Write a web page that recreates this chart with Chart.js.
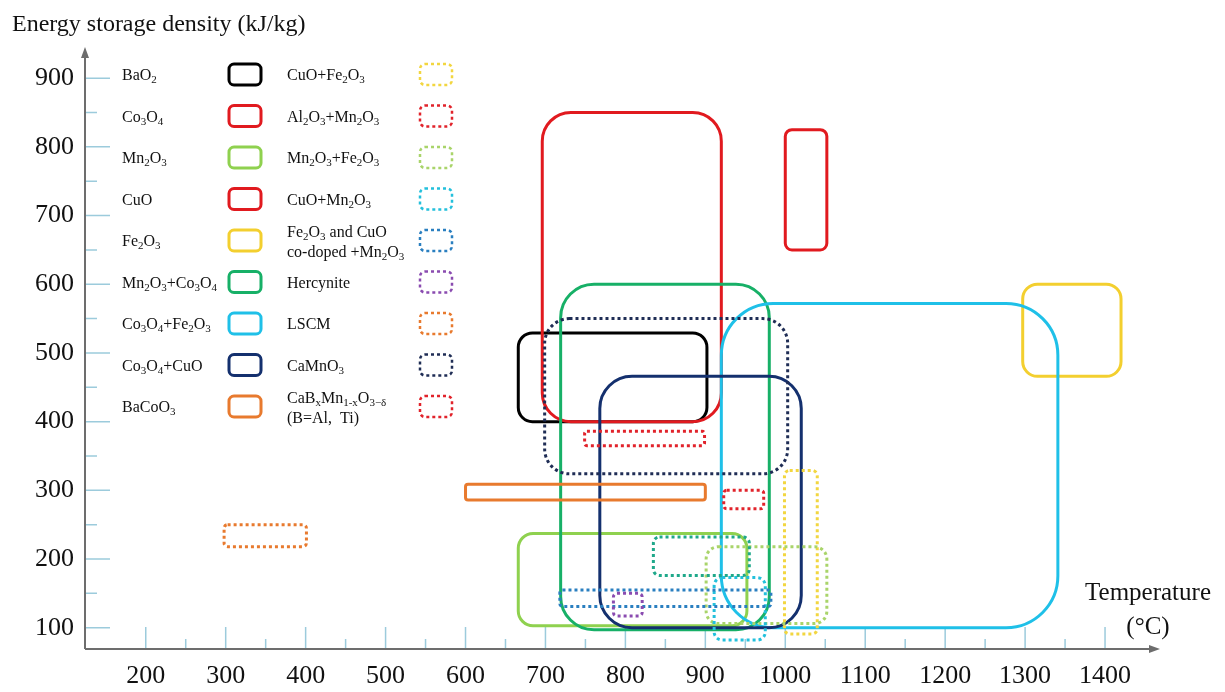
<!DOCTYPE html>
<html>
<head>
<meta charset="utf-8">
<script src="https://cdn.jsdelivr.net/npm/chart.js@4.4.1/dist/chart.umd.min.js"></script>
<style>
  html, body { margin: 0; padding: 0; background: #fff; }
  #wrap { width: 1225px; height: 692px; }
</style>
</head>
<body>
<div id="wrap"><canvas id="chart" width="1225" height="692"></canvas></div>
<script>
// {..} marks a subscript, | a line break
const solidNames = ["BaO{2}", "Co{3}O{4}", "Mn{2}O{3}", "CuO", "Fe{2}O{3}",
  "Mn{2}O{3}+Co{3}O{4}", "Co{3}O{4}+Fe{2}O{3}", "Co{3}O{4}+CuO", "BaCoO{3}"];
const solidColors = ["#000000", "#e11a1f", "#8fd14f", "#e11a1f", "#f3cf2f",
  "#17b067", "#1fc0e8", "#14306e", "#e87a2e"];
// temperature range (°C) and energy density range (kJ/kg)
const solidTemp = [[666, 902], [696, 920], [666, 952], [1000, 1052], [1297, 1420],
  [719, 980], [920, 1341], [768, 1020], [600, 900]];
const solidDensity = [[400, 529], [400, 850], [103, 237], [650, 825], [466, 600],
  [97, 600], [100, 572], [100, 466], [286, 309]];

const dottedNames = ["CuO+Fe{2}O{3}", "Al{2}O{3}+Mn{2}O{3}", "Mn{2}O{3}+Fe{2}O{3}", "CuO+Mn{2}O{3}",
  "Fe{2}O{3} and CuO|co-doped +Mn{2}O{3}", "Hercynite", "LSCM", "CaMnO{3}",
  "CaB{x}Mn{1-x}O{3\u2212\u03b4}|(B=Al,  Ti)"];
const dottedColors = ["#f2d640", "#e1232b", "#a9d46a", "#23c0dc", "#2a7fc0",
  "#8a4bb0", "#e87a2e", "#1f2d55", "#e1232b"];
const dottedTemp = [[999, 1040], [923, 973], [901, 1052], [911, 975], [718, 982],
  [785, 821], [298, 401], [699, 1003], [749, 899]];
const dottedDensity = [[91, 329], [273, 300], [106, 218], [82, 173], [131, 155],
  [117, 150], [218, 250], [324, 550], [365, 386]];

// one dotted range in the figure has no legend entry
const extraTemp = [835, 955];
const extraDensity = [176, 232];
const extraColor = "#1fa88a";

const xTickLabels = [200, 300, 400, 500, 600, 700, 800, 900, 1000, 1100, 1200, 1300, 1400];
const yTickLabels = [100, 200, 300, 400, 500, 600, 700, 800, 900];

const FONT = '"Liberation Serif", "Times New Roman", serif';

function drawRich(ctx, text, x, y, size) {
  const parts = text.split(/(\{[^}]*\})/).filter(Boolean);
  let cx = x;
  parts.forEach((p) => {
    const sub = p.startsWith("{");
    const s = sub ? p.slice(1, -1) : p;
    ctx.font = `${sub ? Math.round(size * 0.68) : size}px ${FONT}`;
    ctx.fillText(s, cx, sub ? y + size * 0.28 : y);
    cx += ctx.measureText(s).width;
  });
}

function roundBox(ctx, x1, y1, x2, y2, r, color, dotted, lw) {
  const l = Math.min(x1, x2), t = Math.min(y1, y2);
  const rr = Math.max(x1, x2), b = Math.max(y1, y2);
  ctx.save();
  ctx.strokeStyle = color;
  ctx.lineWidth = lw;
  ctx.setLineDash(dotted ? [3, 3] : []);
  ctx.beginPath();
  ctx.moveTo(l + r, t);
  ctx.arcTo(rr, t, rr, b, r);
  ctx.arcTo(rr, b, l, b, r);
  ctx.arcTo(l, b, l, t, r);
  ctx.arcTo(l, t, rr, t, r);
  ctx.closePath();
  ctx.stroke();
  ctx.restore();
}

const datasets = [];
function addSet(label, color, dotted, t, d) {
  datasets.push({
    label, borderColor: color, dotted, pointRadius: 0, showLine: false,
    data: [{ x: t[0], y: d[0] }, { x: t[1], y: d[1] }],
  });
}
solidNames.forEach((n, i) => addSet(n, solidColors[i], false, solidTemp[i], solidDensity[i]));
dottedNames.forEach((n, i) => addSet(n, dottedColors[i], true, dottedTemp[i], dottedDensity[i]));
addSet("", extraColor, true, extraTemp, extraDensity);

const axesPlugin = {
  id: "axesPlugin",
  beforeDatasetsDraw(chart) {
    const { ctx, chartArea: a, scales } = chart;
    ctx.save();
    // tick marks inside the plot
    ctx.strokeStyle = "#9ccbdc";
    ctx.lineWidth = 1.5;
    ctx.beginPath();
    xTickLabels.forEach((v, i) => {
      const px = scales.x.getPixelForValue(v);
      ctx.moveTo(px, a.bottom); ctx.lineTo(px, a.bottom - 22);
      if (i < xTickLabels.length - 1) {
        const mx = scales.x.getPixelForValue((v + xTickLabels[i + 1]) / 2);
        ctx.moveTo(mx, a.bottom); ctx.lineTo(mx, a.bottom - 10);
      }
    });
    yTickLabels.forEach((v, i) => {
      const py = scales.y.getPixelForValue(v);
      ctx.moveTo(a.left, py); ctx.lineTo(a.left + 25, py);
      if (i < yTickLabels.length - 1) {
        const my = scales.y.getPixelForValue((v + yTickLabels[i + 1]) / 2);
        ctx.moveTo(a.left, my); ctx.lineTo(a.left + 12, my);
      }
    });
    ctx.stroke();

    // axis lines with arrows
    ctx.strokeStyle = "#6d6d6d";
    ctx.fillStyle = "#6d6d6d";
    ctx.lineWidth = 2;
    ctx.beginPath();
    ctx.moveTo(a.left, a.bottom); ctx.lineTo(a.left, a.top + 4);
    ctx.moveTo(a.left, a.bottom); ctx.lineTo(a.right - 4, a.bottom);
    ctx.stroke();
    ctx.beginPath();
    ctx.moveTo(a.left, a.top - 3); ctx.lineTo(a.left - 4, a.top + 8); ctx.lineTo(a.left + 4, a.top + 8);
    ctx.closePath(); ctx.fill();
    ctx.beginPath();
    ctx.moveTo(a.right + 3, a.bottom); ctx.lineTo(a.right - 8, a.bottom - 4); ctx.lineTo(a.right - 8, a.bottom + 4);
    ctx.closePath(); ctx.fill();

    // axis titles
    ctx.fillStyle = "#111";
    ctx.textBaseline = "middle";
    ctx.textAlign = "left";
    ctx.font = `24px ${FONT}`;
    ctx.fillText("Energy storage density (kJ/kg)", 12, 25);
    ctx.textAlign = "center";
    ctx.font = `25px ${FONT}`;
    ctx.fillText("Temperature", 1148, 593);
    ctx.fillText("(\u00b0C)", 1148, 627);

    // legend: text followed by its sample box, two columns
    ctx.textAlign = "left";
    const drawItem = (name, color, dotted, row, textX, boxX) => {
      const cy = 76 + row * 41.5;
      const lines = name.split("|");
      ctx.fillStyle = "#111";
      if (lines.length === 1) {
        drawRich(ctx, lines[0], textX, cy, 16);
      } else {
        drawRich(ctx, lines[0], textX, cy - 9, 16);
        drawRich(ctx, lines[1], textX, cy + 11, 16);
      }
      roundBox(ctx, boxX, cy - 12, boxX + 32, cy + 9, 5, color, dotted, dotted ? 2.5 : 3);
    };
    solidNames.forEach((n, i) => drawItem(n, solidColors[i], false, i, 122, 229));
    dottedNames.forEach((n, i) => drawItem(n, dottedColors[i], true, i, 287, 420));
    ctx.restore();
  },
  afterDatasetsDraw(chart) {
    const { ctx } = chart;
    chart.data.datasets.forEach((ds, i) => {
      const pts = chart.getDatasetMeta(i).data;
      const w = Math.abs(pts[1].x - pts[0].x), h = Math.abs(pts[1].y - pts[0].y);
      roundBox(ctx, pts[0].x, pts[0].y, pts[1].x, pts[1].y, Math.min(w, h) * 0.16,
        ds.borderColor, ds.dotted, 3);
    });
  },
};

const tickFont = { family: FONT, size: 26 };

new Chart(document.getElementById("chart"), {
  type: "scatter",
  data: { datasets },
  options: {
    responsive: false,
    animation: false,
    events: [],
    layout: { padding: { top: 50, right: 68, left: 0, bottom: 0 } },
    plugins: { legend: { display: false }, tooltip: { enabled: false } },
    scales: {
      x: {
        type: "linear", min: 124, max: 1465,
        grid: { display: false, drawTicks: false },
        border: { display: false },
        afterBuildTicks: (s) => { s.ticks = xTickLabels.map((v) => ({ value: v })); },
        afterFit: (s) => { s.height = 43; },
        ticks: { font: tickFont, color: "#111", padding: 12, maxRotation: 0, autoSkip: false,
          callback: (v) => String(v) },
      },
      y: {
        type: "linear", min: 69, max: 941,
        grid: { display: false, drawTicks: false },
        border: { display: false },
        afterBuildTicks: (s) => { s.ticks = yTickLabels.map((v) => ({ value: v })); },
        afterFit: (s) => { s.width = 85; },
        ticks: { font: tickFont, color: "#111", padding: 11, autoSkip: false,
          callback: (v) => String(v) },
      },
    },
  },
  plugins: [axesPlugin],
});
</script>
</body>
</html>
